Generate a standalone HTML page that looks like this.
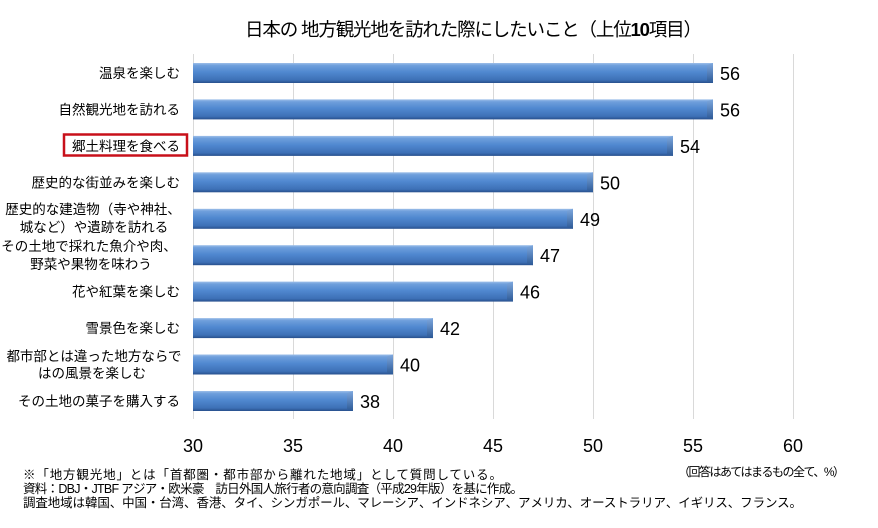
<!DOCTYPE html>
<html><head><meta charset="utf-8">
<style>
html,body{margin:0;padding:0;background:#fff;}
svg{display:block;}
text{font-family:"Liberation Sans","Noto Sans CJK JP",sans-serif;fill:#000;}
.cat{font-size:13.5px;}
.val{font-size:18px;}
.tick{font-size:18px;}
.fn{font-size:12.5px;}
</style></head>
<body>
<svg width="878" height="528" viewBox="0 0 878 528" xmlns="http://www.w3.org/2000/svg">
<defs>
<linearGradient id="bg" x1="0" y1="0" x2="0" y2="1">
<stop offset="0" stop-color="#9dbfe9"/>
<stop offset="0.12" stop-color="#6f9fdc"/>
<stop offset="0.45" stop-color="#5088d0"/>
<stop offset="0.85" stop-color="#3d70b6"/>
<stop offset="1" stop-color="#274f8c"/>
</linearGradient>
<linearGradient id="bv" x1="0" y1="0" x2="0" y2="1">
<stop offset="0" stop-color="#7ea8de"/>
<stop offset="1" stop-color="#2c5996"/>
</linearGradient>
</defs>
<rect width="878" height="528" fill="#fff"/>

<!-- title -->
<text x="245" y="36" font-size="18.5" textLength="457">日本の 地方観光地を訪れた際にしたいこと（上位<tspan font-weight="bold">10</tspan>項目）</text>

<!-- gridlines -->
<g stroke="#d9d9d9" stroke-width="1">
<line x1="193.5" y1="54" x2="193.5" y2="419"/>
<line x1="293.5" y1="54" x2="293.5" y2="419"/>
<line x1="393.5" y1="54" x2="393.5" y2="419"/>
<line x1="493.5" y1="54" x2="493.5" y2="419"/>
<line x1="593.5" y1="54" x2="593.5" y2="419"/>
<line x1="693.5" y1="54" x2="693.5" y2="419"/>
<line x1="793.5" y1="54" x2="793.5" y2="419"/>
</g>

<!-- bars -->
<g>
<rect x="193" y="63" width="520" height="20" fill="url(#bg)"/><polygon points="707,65 713,63 713,83 707,81" fill="url(#bv)"/>
<rect x="193" y="99.4" width="520" height="20" fill="url(#bg)"/><polygon points="707,101.4 713,99.4 713,119.4 707,117.4" fill="url(#bv)"/>
<rect x="193" y="135.9" width="480" height="20" fill="url(#bg)"/><polygon points="667,137.9 673,135.9 673,155.9 667,153.9" fill="url(#bv)"/>
<rect x="193" y="172.3" width="400" height="20" fill="url(#bg)"/><polygon points="587,174.3 593,172.3 593,192.3 587,190.3" fill="url(#bv)"/>
<rect x="193" y="208.8" width="380" height="20" fill="url(#bg)"/><polygon points="567,210.8 573,208.8 573,228.8 567,226.8" fill="url(#bv)"/>
<rect x="193" y="245.2" width="340" height="20" fill="url(#bg)"/><polygon points="527,247.2 533,245.2 533,265.2 527,263.2" fill="url(#bv)"/>
<rect x="193" y="281.6" width="320" height="20" fill="url(#bg)"/><polygon points="507,283.6 513,281.6 513,301.6 507,299.6" fill="url(#bv)"/>
<rect x="193" y="318.1" width="240" height="20" fill="url(#bg)"/><polygon points="427,320.1 433,318.1 433,338.1 427,336.1" fill="url(#bv)"/>
<rect x="193" y="354.5" width="200" height="20" fill="url(#bg)"/><polygon points="387,356.5 393,354.5 393,374.5 387,372.5" fill="url(#bv)"/>
<rect x="193" y="391" width="160" height="20" fill="url(#bg)"/><polygon points="347,393 353,391 353,411 347,409" fill="url(#bv)"/>
</g>

<!-- value labels -->
<g class="val">
<text x="720" y="80">56</text>
<text x="720" y="116.4">56</text>
<text x="680" y="152.9">54</text>
<text x="600" y="189.3">50</text>
<text x="580" y="225.8">49</text>
<text x="540" y="262.2">47</text>
<text x="520" y="298.6">46</text>
<text x="440" y="335.1">42</text>
<text x="400" y="371.5">40</text>
<text x="360" y="408">38</text>
</g>

<!-- category labels -->
<g class="cat">
<text x="180" y="78" text-anchor="end">温泉を楽しむ</text>
<text x="180" y="114.4" text-anchor="end">自然観光地を訪れる</text>
<text x="180" y="150.9" text-anchor="end">郷土料理を食べる</text>
<text x="180" y="187.3" text-anchor="end">歴史的な街並みを楽しむ</text>
<text x="93" y="214" text-anchor="middle">歴史的な建造物（寺や神社、</text>
<text x="94" y="232" text-anchor="middle">城など）や遺跡を訪れる</text>
<text x="89" y="251" text-anchor="middle">その土地で採れた魚介や肉、</text>
<text x="91" y="269" text-anchor="middle">野菜や果物を味わう</text>
<text x="180" y="296.6" text-anchor="end">花や紅葉を楽しむ</text>
<text x="180" y="333.1" text-anchor="end">雪景色を楽しむ</text>
<text x="94" y="361" text-anchor="middle">都市部とは違った地方ならで</text>
<text x="92" y="378" text-anchor="middle">はの風景を楽しむ</text>
<text x="180" y="406" text-anchor="end">その土地の菓子を購入する</text>
</g>
<rect x="64" y="134.5" width="123" height="21" fill="none" stroke="#c8101a" stroke-width="2.5"/>

<!-- ticks -->
<g class="tick" text-anchor="middle">
<text x="193" y="452">30</text>
<text x="293" y="452">35</text>
<text x="393" y="452">40</text>
<text x="493" y="452">45</text>
<text x="593" y="452">50</text>
<text x="693" y="452">55</text>
<text x="793" y="452">60</text>
</g>

<!-- footnotes -->
<g class="fn">
<text x="23" y="479" textLength="479">※「地方観光地」とは「首都圏・都市部から離れた地域」として質問している。</text>
<text x="23" y="493" textLength="500">資料：DBJ・JTBF アジア・欧米豪　訪日外国人旅行者の意向調査（平成29年版）を基に作成。</text>
<text x="23" y="507" textLength="779">調査地域は韓国、中国・台湾、香港、タイ、シンガポール、マレーシア、インドネシア、アメリカ、オーストラリア、イギリス、フランス。</text>
<text x="678" y="476" font-size="12" textLength="167">（回答はあてはまるもの全て、%）</text>
</g>
</svg>
</body></html>
